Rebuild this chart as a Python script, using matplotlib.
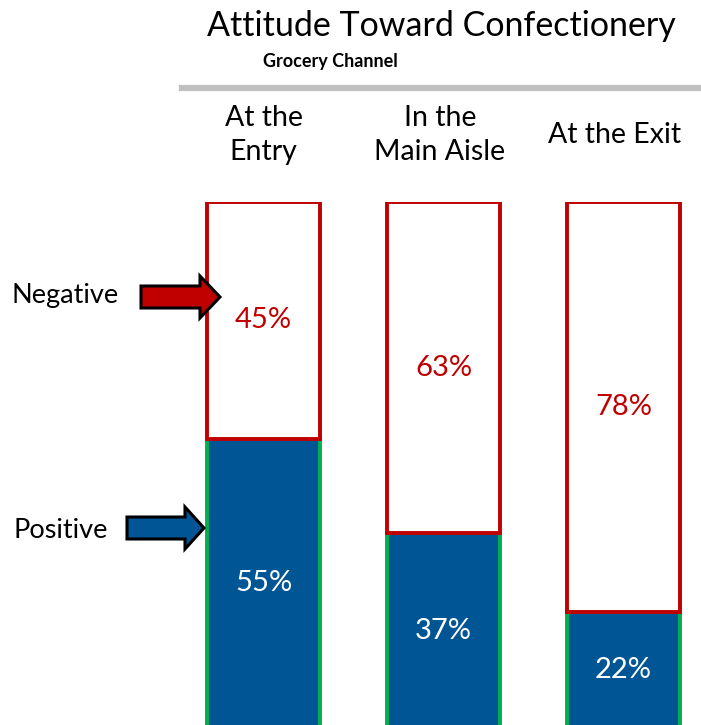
# encoding:utf-8
# stacked attitude bars for the grocery channel

import matplotlib.pyplot as plt
import matplotlib.patches as mpatches
import matplotlib.transforms as mtransforms
from matplotlib.lines import Line2D

plt.rcParams['font.family'] = ['Lato', 'DejaVu Sans']

locations = ['At the\nEntry', 'In the\nMain Aisle', 'At the Exit']
positive = [55, 37, 22]
negative = [45, 63, 78]

blue = '#005694'
green = '#00B050'
red = '#C00000'


def plot():
    fig = plt.figure(figsize=(7.01, 7.25), dpi=100)
    ax = fig.add_axes([155 / 701, -3 / 725, 546 / 701, 526 / 725])
    ax.set_xlim(-0.603, -0.603 + 546 / 180)
    ax.set_ylim(0, 100)
    ax.axis('off')

    x = list(range(len(locations)))
    width = 0.63
    ax.bar(x, positive, width, color=blue, edgecolor=green, linewidth=2.8, zorder=2)
    ax.bar(x, negative, width, bottom=positive, color='white', edgecolor=red,
           linewidth=2.8, zorder=3)

    for i in x:
        ax.text(i, positive[i] / 2, '{}%'.format(positive[i]), color='white',
                ha='center', va='center', fontsize=21, zorder=4)
        ax.text(i, positive[i] + negative[i] / 2, '{}%'.format(negative[i]), color=red,
                ha='center', va='center', fontsize=21, zorder=4)

    # category headers above the bars (last one nudged left, it runs to the edge)
    trans = mtransforms.blended_transform_factory(ax.transData, fig.transFigure)
    nudge = [0.0, -0.02, -0.05]
    for i, name in zip(x, locations):
        ax.text(i + nudge[i], (725 - 135) / 725, name, transform=trans, ha='center',
                va='center', fontsize=20.5, linespacing=1.35, clip_on=False)

    fig.text(0.629, (725 - 26) / 725, 'Attitude Toward Confectionery', ha='center',
             va='center', fontsize=24.5)
    fig.text(0.472, (725 - 62) / 725, 'Grocery Channel', ha='center', va='center',
             fontsize=13, fontweight='bold')
    fig.add_artist(Line2D([182 / 701, 1.0], [(725 - 88) / 725] * 2,
                          transform=fig.transFigure, color='#BFBFBF', linewidth=4.5))

    # side labels with pointer arrows
    fig.text(12 / 701, (725 - 296) / 725, 'Negative', ha='left', va='center',
             fontsize=19.5)
    fig.text(14 / 701, (725 - 531) / 725, 'Positive', ha='left', va='center',
             fontsize=19.5)
    fig.add_artist(mpatches.FancyArrow(1.41, (725 - 297) / 100, 0.79, 0,
                                       width=0.22, head_width=0.42, head_length=0.20,
                                       length_includes_head=True, facecolor=red,
                                       edgecolor='black', linewidth=2.2,
                                       transform=fig.dpi_scale_trans, zorder=5))
    fig.add_artist(mpatches.FancyArrow(1.27, (725 - 528) / 100, 0.77, 0,
                                       width=0.22, head_width=0.42, head_length=0.19,
                                       length_includes_head=True, facecolor=blue,
                                       edgecolor='black', linewidth=2.2,
                                       transform=fig.dpi_scale_trans, zorder=5))

    fig.savefig('out.png', dpi=100)


if __name__ == '__main__':
    plot()
